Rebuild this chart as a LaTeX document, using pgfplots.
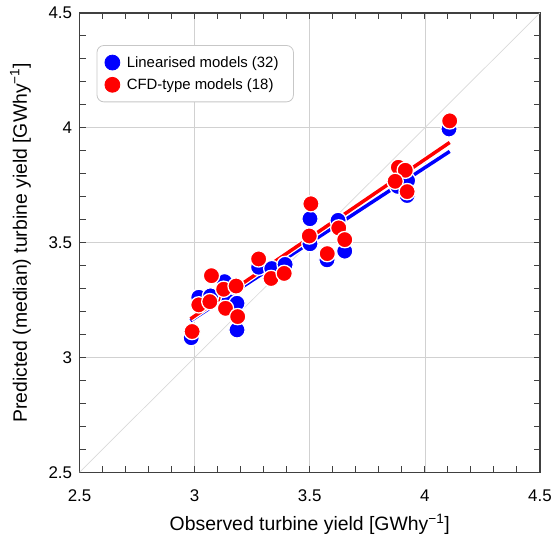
\documentclass[border=0pt]{standalone}
\usepackage{fontspec}
\setmainfont{Liberation Sans}
\usepackage{pgfplots}
\pgfplotsset{compat=1.18}

\definecolor{linblue}{RGB}{0,0,255}
\definecolor{cfdred}{RGB}{255,0,0}

% linearised models (median prediction vs observation)
\pgfplotstableread{
x y
2.985 3.086
3.018 3.262
3.069 3.268
3.130 3.330
3.148 3.243
3.184 3.236
3.184 3.120
3.278 3.393
3.335 3.387
3.393 3.405
3.501 3.604
3.501 3.495
3.575 3.425
3.623 3.597
3.652 3.463
3.882 3.745
3.925 3.770
3.923 3.705
4.105 3.995
}\linear

% CFD-type models
\pgfplotstableread{
x y
2.989 3.113
3.073 3.356
3.018 3.229
3.066 3.243
3.126 3.297
3.180 3.311
3.134 3.214
3.187 3.178
3.278 3.429
3.332 3.344
3.389 3.366
3.505 3.669
3.498 3.529
3.576 3.452
3.626 3.564
3.652 3.513
3.885 3.828
3.915 3.815
3.871 3.767
3.923 3.722
4.108 4.030
}\cfd

\begin{document}
\begin{tikzpicture}
\begin{axis}[
    name=ax,
    width=463pt, height=462pt, scale only axis,
    xmin=2.5, xmax=4.5, ymin=2.5, ymax=4.5,
    xtick={2.5,3,...,4.5}, ytick={2.5,3,...,4.5},
    minor tick num=4,
    tick align=inside,
    major tick length=6pt, minor tick length=6pt,
    tick style={black!75, line width=0.9pt},
    axis line style={black!75, line width=1.3pt},
    grid=major, grid style={black!18, line width=0.6pt},
    /pgf/number format/assume math mode=true,
    ticklabel style={font=\fontsize{17}{19}\selectfont},
    xticklabel style={yshift=-14pt},
    yticklabel style={xshift=-4pt},
    xlabel={Observed turbine yield [GWhy\textsuperscript{−1}]},
    ylabel={Predicted (median) turbine yield [GWhy\textsuperscript{−1}]},
    label style={font=\fontsize{19.5}{21}\selectfont},
    xlabel style={at={(axis description cs:0.5,-0.1277)}, anchor=base},
    ylabel style={at={(axis description cs:-0.1145,0.5)}, anchor=base},
    legend image code/.code={
        \draw[#1, mark size=7.5pt, mark options={draw=none}] plot coordinates {(12pt,0pt)};
    },
    legend style={
        at={(0.037,0.93)}, anchor=north west,
        draw=black!22, rounded corners=7pt, line width=0.8pt,
        font=\fontsize{15}{17}\selectfont,
        inner xsep=8pt, inner ysep=9pt,
        row sep=6pt,
        nodes={inner xsep=7pt},
    },
    legend cell align=left,
]
\addplot[black!15, line width=0.7pt, forget plot] coordinates {(2.5,2.5) (4.5,4.5)};
% fitted lines
\addplot[white, line width=6pt, forget plot] coordinates {(2.982,3.160) (4.108,3.897)};
\addplot[linblue, line width=3.5pt, forget plot] coordinates {(2.982,3.160) (4.108,3.897)};
\addplot[white, line width=6pt, forget plot] coordinates {(2.982,3.168) (4.108,3.936)};
\addplot[cfdred, line width=3.5pt, forget plot] coordinates {(2.982,3.168) (4.108,3.936)};
% points
\addplot[color=linblue, only marks, mark=*, mark size=8.2pt,
    mark options={draw=white, line width=1.3pt}]
    table {\linear};
\addlegendentry{Linearised models (32)}
\addplot[color=cfdred, only marks, mark=*, mark size=8.2pt,
    mark options={draw=white, line width=1.3pt}]
    table {\cfd};
\addlegendentry{CFD-type models (18)}
\end{axis}
\path ([shift={(-80pt,-65pt)}]ax.south west) rectangle ([shift={(12pt,13pt)}]ax.north east);
\end{tikzpicture}
\end{document}
